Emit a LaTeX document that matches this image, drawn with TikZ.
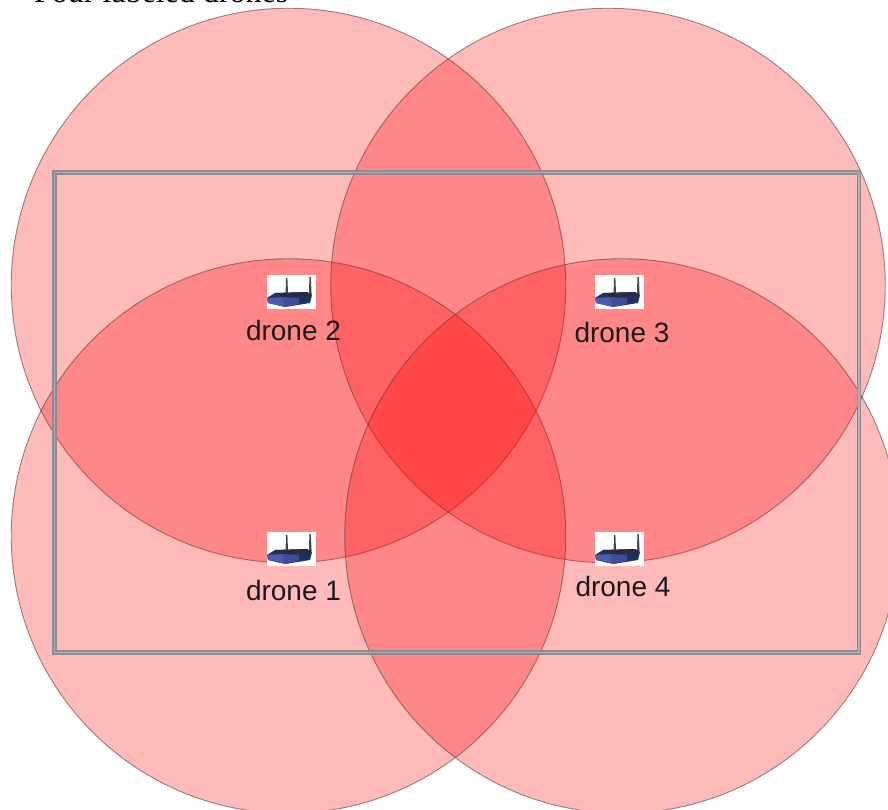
\documentclass[tikz,border=0pt]{standalone}
\usepackage{fontspec}
\setmainfont{Liberation Sans}
\newfontfamily\capfont{Liberation Serif}
\definecolor{routerblue}{HTML}{4A5CB0}
\definecolor{routerdark}{HTML}{2A2C3E}
\definecolor{routernavy}{HTML}{23305E}
\definecolor{antennagrey}{HTML}{45474E}
\definecolor{edgeline}{HTML}{5A3A3A}
\definecolor{framegrey}{HTML}{8F8A90}
\definecolor{framelight}{HTML}{B5AEB4}
\tikzset{
  x=1pt,y=-1pt,
  rangedisc/.style={circle,minimum size=554.5pt,inner sep=0pt,fill=red,fill opacity=.27,draw=edgeline,draw opacity=.6,line width=.9pt},
  dronelabel/.style={font=\fontsize{28}{30}\selectfont,text=black!90,inner sep=0pt,anchor=center},
  iconbg/.style={fill=white,draw=none,minimum width=49pt,minimum height=34pt,inner sep=0pt},
  frameouter/.style={draw=framegrey,line width=4.4pt},
  frameinner/.style={draw=framelight,line width=1.2pt},
  router/.pic={
    \fill[antennagrey] (-5,-14) -- (-3.6,-14) -- (-3,1) -- (-5.4,1) -- cycle;
    \fill[antennagrey] (18.4,-15) -- (19.8,-15) -- (20.6,2) -- (18,2) -- cycle;
    \fill[routernavy] (-24,6) -- (-16,1) -- (16,0) -- (21,3) -- (19,11) -- (-6,15) -- (-23,11) -- cycle;
    \fill[routerblue] (-24,6) -- (-9,5) -- (-6,15) -- (-23,11) -- cycle;
    \fill[routerblue!85!black] (-9,5) -- (8,6) -- (8,12) -- (-6,15) -- cycle;
    \fill[routerdark] (-16,1) -- (16,0) -- (21,3) -- (-9,5) -- cycle;
  }
}
\begin{document}
\begin{tikzpicture}
\useasboundingbox (0,0) rectangle (888,810);
\clip (0,0) rectangle (888,810);
\fill[white] (0,0) rectangle (888,810);
\node[font=\capfont\fontsize{32}{34}\selectfont,anchor=base west,inner sep=0pt] (caption) at (34,2.5) {Four labeled drones};
\node[rangedisc] (r2) at (288.5,285.5) {};
\node[rangedisc] (r3) at (608,285.5) {};
\node[rangedisc] (r1) at (288.5,536) {};
\node[rangedisc] (r4) at (622,536) {};
\node[iconbg] (i2) at (291,292) {};
\node[iconbg] (i3) at (619,292) {};
\node[iconbg] (i1) at (291,549) {};
\node[iconbg] (i4) at (619,549) {};
\pic at (i2) {router};
\pic at (i3) {router};
\pic at (i1) {router};
\pic at (i4) {router};
\node[dronelabel] (d2) at (293.5,330) {drone 2};
\node[dronelabel] (d3) at (622,332) {drone 3};
\node[dronelabel] (d1) at (293.5,590) {drone 1};
\node[dronelabel] (d4) at (623,586.5) {drone 4};
\draw[frameouter] (54.5,172.5) rectangle (859,652.5);
\draw[frameinner] (54.5,172.5) rectangle (859,652.5);
\end{tikzpicture}
\end{document}
